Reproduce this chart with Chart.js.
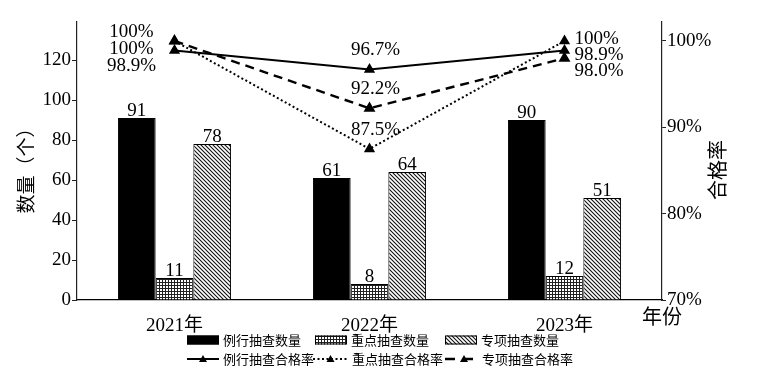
<!DOCTYPE html>
<html>
<head>
<meta charset="utf-8">
<script src="https://cdn.jsdelivr.net/npm/chart.js@4.4.0/dist/chart.umd.min.js"></script>
<style>
  body { margin: 0; background: #fff; }
  #wrap { width: 757px; height: 386px; }
</style>
</head>
<body>
<div id="wrap"><canvas id="grafico" width="757" height="386"></canvas></div>
<script>
// datos
const categories = ["2021年", "2022年", "2023年"];
const routineCount = [91, 61, 90];
const keyCount = [11, 8, 12];
const specialCount = [78, 64, 51];
const routineRate = [98.9, 96.7, 98.9];
const keyRate = [100, 87.5, 100];
const specialRate = [100, 92.2, 98.0];
const countTicks = [0, 20, 40, 60, 80, 100, 120];
const rateTicks = [70, 80, 90, 100];

const FONT = "'Liberation Serif', 'Noto Sans CJK SC', serif";
const CJK = "'Noto Sans CJK SC', sans-serif";

function makePattern(kind) {
    const c = document.createElement("canvas");
    const s = kind === "grid" ? 3 : 4;
    c.width = s; c.height = s;
    const g = c.getContext("2d");
    g.fillStyle = "#fff";
    g.fillRect(0, 0, s, s);
    g.strokeStyle = "#111";
    if (kind === "grid") {
        g.fillStyle = "#222";
        g.fillRect(0, 0, s, 1);
        g.fillRect(0, 0, 1, s);
    } else {
        g.lineWidth = 1.1;
        g.beginPath();
        g.moveTo(0, 0); g.lineTo(s, s);
        g.moveTo(-1, s - 1); g.lineTo(1, s + 1);
        g.moveTo(s - 1, -1); g.lineTo(s + 1, 1);
        g.stroke();
    }
    return g.createPattern(c, "repeat");
}

function fmtRate(v) {
    return (v === 100 ? "100" : v.toFixed(1)) + "%";
}

const textPlugin = {
    id: "textos",
    afterDatasetsDraw(chart) {
        const ctx = chart.ctx;
        const y1 = chart.scales.y1;
        ctx.save();
        ctx.fillStyle = "#000";
        ctx.font = "19px " + FONT;

        // valores de las barras
        ctx.textAlign = "center";
        ctx.textBaseline = "alphabetic";
        [0, 1, 2].forEach(di => {
            chart.getDatasetMeta(di).data.forEach((bar, i) => {
                ctx.fillText(chart.data.datasets[di].data[i], bar.x, bar.y - 2);
            });
        });

        // porcentajes de las líneas
        ctx.textBaseline = "middle";
        const lineIdx = [3, 4, 5];
        categories.forEach((cat, i) => {
            const pts = lineIdx.map(di => ({
                v: chart.data.datasets[di].data[i],
                p: chart.getDatasetMeta(di).data[i]
            }));
            const sorted = pts.slice().sort((a, b) => b.v - a.v);
            if (i === 0) {
                ctx.textAlign = "center";
                const x = pts[0].p.x - 43;
                const top = y1.getPixelForValue(sorted[0].v) - 9;
                sorted.forEach((o, k) => ctx.fillText(fmtRate(o.v), x, top + k * 17));
            } else if (i === categories.length - 1) {
                ctx.textAlign = "left";
                const x = pts[0].p.x + 10;
                const top = y1.getPixelForValue(sorted[0].v) - 1.5;
                sorted.forEach((o, k) => ctx.fillText(fmtRate(o.v), x, top + k * 16));
            } else {
                ctx.textAlign = "center";
                pts.forEach(o => ctx.fillText(fmtRate(o.v), o.p.x + 6, o.p.y - 19));
            }
        });
        ctx.restore();
    },
    afterDraw(chart) {
        const ctx = chart.ctx;
        const area = chart.chartArea;
        ctx.save();
        ctx.fillStyle = "#000";
        ctx.textAlign = "center";
        ctx.textBaseline = "middle";

        // títulos de ejes
        ctx.font = "19px " + FONT;
        ctx.save();
        ctx.translate(28, 166);
        ctx.rotate(-Math.PI / 2);
        ctx.fillText("数量（个）", 0, 0);
        ctx.restore();
        ctx.save();
        ctx.translate(720, 170);
        ctx.rotate(-Math.PI / 2);
        ctx.font = "20px " + FONT;
        ctx.fillText("合格率", 0, 0);
        ctx.restore();
        ctx.font = "20px " + FONT;
        ctx.fillText("年份", area.right, 319);

        // leyenda dibujada a mano
        const ds = chart.data.datasets;
        const cols = [187, 315, 445];
        const rows = [340, 359];
        ctx.font = "13px " + CJK;
        ctx.textAlign = "left";
        [0, 1, 2].forEach((di, k) => {
            const x = cols[k];
            ctx.fillStyle = ds[di].backgroundColor;
            ctx.fillRect(x, rows[0] - 4.5, 32, 9);
            ctx.strokeStyle = "#000";
            ctx.lineWidth = 1;
            ctx.strokeRect(x + 0.5, rows[0] - 4, 31, 8);
            ctx.fillStyle = "#000";
            ctx.fillText(ds[di].label, x + 36, rows[0]);
        });
        [3, 4, 5].forEach((di, k) => {
            const x = cols[k] - (k === 1 ? 2 : 0);
            const w = k === 1 ? 35 : 32;
            ctx.strokeStyle = "#000";
            ctx.lineWidth = ds[di].borderWidth;
            ctx.setLineDash(k === 2 ? [10, 8] : (ds[di].borderDash || []));
            ctx.beginPath();
            ctx.moveTo(x, rows[1]);
            ctx.lineTo(x + w, rows[1]);
            ctx.stroke();
            ctx.setLineDash([]);
            const tx = x + w / 2 + (k === 2 ? 3 : 0);
            ctx.fillStyle = "#000";
            ctx.beginPath();
            ctx.moveTo(tx, rows[1] - 4);
            ctx.lineTo(tx + 4, rows[1] + 3);
            ctx.lineTo(tx - 4, rows[1] + 3);
            ctx.closePath();
            ctx.fill();
            ctx.fillText(ds[di].label, cols[k] + (k === 0 ? 36 : 37), rows[1]);
        });
        ctx.restore();
    }
};

const ctx = document.getElementById("grafico");

new Chart(ctx, {
    type: "bar",
    data: {
        labels: categories,
        datasets: [
            { label: "例行抽查数量", data: routineCount, yAxisID: "y", backgroundColor: "#000", borderColor: "#000", borderWidth: 1, order: 2 },
            { label: "重点抽查数量", data: keyCount, yAxisID: "y", backgroundColor: makePattern("grid"), borderColor: "#000", borderWidth: 1, order: 2 },
            { label: "专项抽查数量", data: specialCount, yAxisID: "y", backgroundColor: makePattern("diag"), borderColor: "#000", borderWidth: 1, order: 2 },
            { type: "line", label: "例行抽查合格率", data: routineRate, yAxisID: "y1", borderColor: "#000", backgroundColor: "#000", borderWidth: 2, pointStyle: "triangle", pointRadius: 4.5, order: 1 },
            { type: "line", label: "重点抽查合格率", data: keyRate, yAxisID: "y1", borderColor: "#000", backgroundColor: "#000", borderWidth: 2, borderDash: [2, 2.5], pointStyle: "triangle", pointRadius: 4.5, order: 1 },
            { type: "line", label: "专项抽查合格率", data: specialRate, yAxisID: "y1", borderColor: "#000", backgroundColor: "#000", borderWidth: 2.4, borderDash: [9, 6], pointStyle: "triangle", pointRadius: 4.5, order: 1 }
        ]
    },
    options: {
        responsive: false,
        animation: false,
        layout: { padding: { top: 22, left: 0, right: 0, bottom: 0 } },
        datasets: { bar: { barPercentage: 1, categoryPercentage: 0.58 } },
        scales: {
            x: {
                offset: true,
                grid: { display: false },
                border: { display: true, color: "#000", width: 1.2 },
                ticks: { color: "#000", font: { family: FONT, size: 19 }, padding: 7 },
                afterFit: s => { s.height = 86; }
            },
            y: {
                position: "left",
                min: 0,
                max: 139,
                grid: { drawOnChartArea: false, drawTicks: true, tickLength: 5, color: "#222" },
                border: { display: true, color: "#222", width: 1.2 },
                ticks: { color: "#000", font: { family: FONT, size: 19 }, padding: 1 },
                afterBuildTicks: s => { s.ticks = countTicks.map(v => ({ value: v })); },
                afterFit: s => { s.width = 77; }
            },
            y1: {
                position: "right",
                min: 70,
                max: 102.2,
                grid: { drawOnChartArea: false, drawTicks: true, tickLength: 4, color: "#222" },
                border: { display: true, color: "#222", width: 1.2 },
                ticks: { color: "#000", font: { family: FONT, size: 19 }, padding: 1, callback: v => v + "%" },
                afterBuildTicks: s => { s.ticks = rateTicks.map(v => ({ value: v })); },
                afterFit: s => { s.width = 95; }
            }
        },
        plugins: {
            legend: { display: false },
            tooltip: { enabled: false }
        }
    },
    plugins: [textPlugin]
});
</script>
</body>
</html>
